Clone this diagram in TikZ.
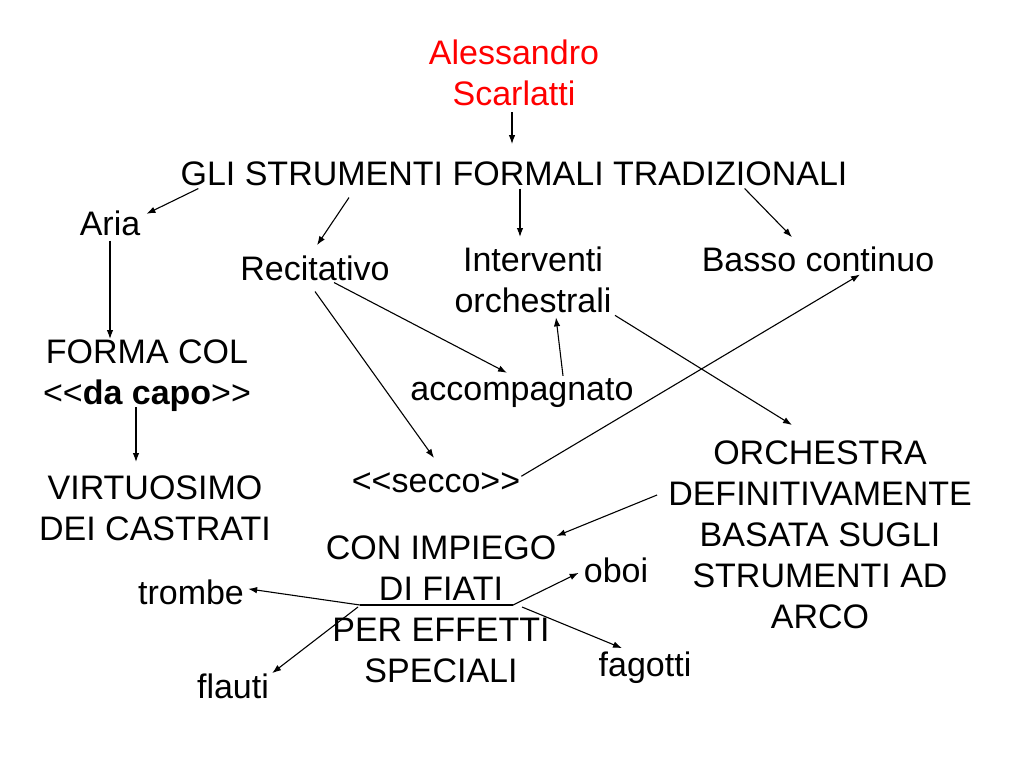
\documentclass[tikz,border=0pt]{standalone}
\usepackage{fontspec}
\setmainfont{Liberation Sans}
\usetikzlibrary{arrows.meta}
\newcommand{\dlt}{<\kern0pt<}
\newcommand{\dgt}{>\kern0pt>}

\begin{document}
\begin{tikzpicture}[x=1pt,y=-1pt,
    every node/.style={font=\fontsize{34}{41}\selectfont, inner sep=0pt, align=center},
    arr/.style={-{Latex[length=9pt,width=6.5pt]}, line width=1.1pt}]
    \useasboundingbox[fill=white] (0,0) rectangle (1024,768);

    % Top of the map
    \node[text=red, anchor=north] (scarlatti) at (514,40) {Alessandro\\Scarlatti};
    \node[anchor=base] (gli) at (514,185) {GLI STRUMENTI FORMALI TRADIZIONALI};

    % Second row
    \node[anchor=base] (aria) at (110,235) {Aria};
    \node[anchor=base] (recit) at (315,280) {Recitativo};
    \node[anchor=north] (interv) at (533,247) {Interventi\\orchestrali};
    \node[anchor=base] (basso) at (818,271) {Basso continuo};

    % Left column
    \node[anchor=north] (forma) at (147,340) {FORMA COL\\\dlt\textbf{da capo}\dgt};
    \node[anchor=north] (virt) at (155,476) {VIRTUOSIMO\\DEI CASTRATI};

    % Middle and right
    \node[anchor=base] (accomp) at (522,400) {accompagnato};
    \node[anchor=base] (secco) at (436,492) {\dlt secco\dgt};
    \node[anchor=north] (orch) at (820,441) {ORCHESTRA\\DEFINITIVAMENTE\\BASATA SUGLI\\STRUMENTI AD\\ARCO};
    \node[anchor=north] (impiego) at (441,536) {CON IMPIEGO\\DI FIATI\\PER EFFETTI\\SPECIALI};

    % Wind instruments
    \node[anchor=base] (trombe) at (191,604) {trombe};
    \node[anchor=base] (flauti) at (233,698) {flauti};
    \node[anchor=base] (oboi) at (616,582) {oboi};
    \node[anchor=base] (fagotti) at (645,676) {fagotti};
    \coordinate (fl) at (360,605);
    \coordinate (fr) at (513,605);

    % Connectors
    \draw[arr] ([shift={(-2,6)}]scarlatti.south) -- ([shift={(-2,-17)}]gli.north);
    \draw[arr] ([shift={(18,3)}]gli.south west) -- ([shift={(6,-9)}]aria.east);
    \draw[arr] ([shift={(-165,12)}]gli.south) -- ([shift={(2,-10)}]recit.north);
    \draw[arr] ([shift={(6,3)}]gli.south) -- ([shift={(-13,-10)}]interv.north);
    \draw[arr] ([shift={(-103,3)}]gli.south east) -- ([shift={(-26,-9)}]basso.north);
    \draw[arr] ([shift={(0,5)}]aria.south) -- ([shift={(-37,-1)}]forma.north);
    \draw[arr] ([shift={(-11,-5)}]forma.south) -- ([shift={(-19,-14)}]virt.north);
    \draw[arr] ([shift={(19,2)}]recit.south) -- ([shift={(-15,-5)}]accomp.north);
    \draw[arr] ([shift={(0,11)}]recit.south) -- ([shift={(-2,-14)}]secco.north);
    \draw[arr] ([shift={(41,-2)}]accomp.north) -- ([shift={(23,4)}]interv.south);
    \draw[arr] ([shift={(82,2)}]interv.south) -- ([shift={(-28,-16)}]orch.north);
    \draw[arr] ([shift={(1,-6)}]secco.east) -- ([shift={(42,3)}]basso.south);
    \draw[arr] ([shift={(-11,54)}]orch.north west) -- (impiego.north east);

    \draw[line width=1.1pt] (fl) -- (fr);
    \draw[arr] (fl) -- ([shift={(4,-3)}]trombe.east);
    \draw[arr] ([shift={(-2,2)}]fl) -- ([shift={(3,0)}]flauti.north east);
    \draw[arr] (fr) -- ([shift={(-5,3)}]oboi.west);
    \draw[arr] ([shift={(9,2)}]fr) -- ([shift={(-23,-3)}]fagotti.north);
\end{tikzpicture}
\end{document}
